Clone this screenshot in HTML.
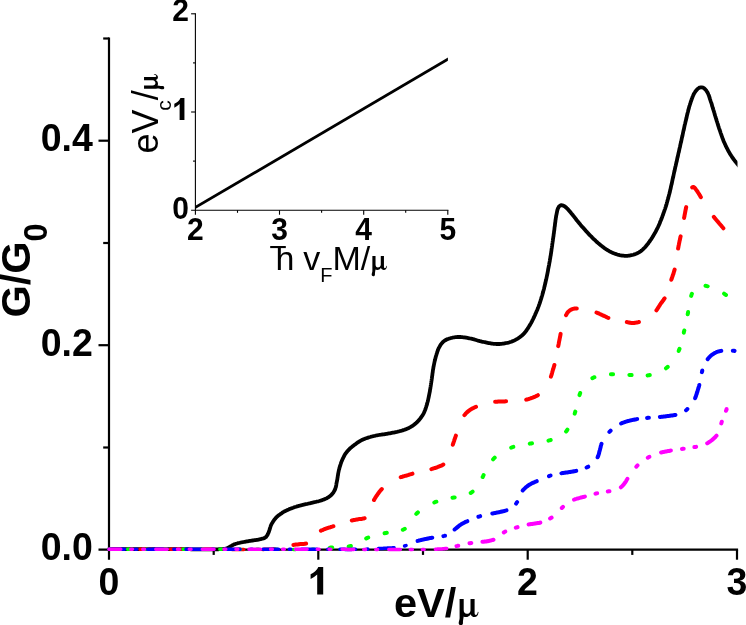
<!DOCTYPE html>
<html><head><meta charset="utf-8"><title>G/G0 vs eV/mu</title>
<style>html,body{margin:0;padding:0;background:#fff}svg{display:block;will-change:transform;opacity:0.9999}</style>
</head><body>
<svg width="746" height="625" viewBox="0 0 746 625">
<rect width="746" height="625" fill="#fff"/>
<defs><path id="mu" d="M1 -17.6H5.1V-6.6C5.1 -4.1 6.4 -2.8 8.2 -2.8C10.1 -2.8 11.9 -4.2 11.9 -6.2V-17.6H16V-3.9C16 -2.3 16.5 -1.7 17.3 -1.7C18.2 -1.7 18.9 -2.9 19.3 -4.9L19.95 -4.7C19.6 -1.5 18.2 0.45 16 0.45C14 0.45 12.6 -0.6 12.1 -2.4C11 -0.6 9.2 0.5 7.3 0.5C6.3 0.5 5.6 0.3 5.1 -0.1C4.9 1.2 4.6 2.6 4.45 3.8C4.3 4.9 4.35 5.6 4.35 6.3C4.35 7.7 3.5 8.6 2.25 8.6C1 8.6 0.1 7.7 0.1 6.4C0.1 5.3 0.6 4.3 0.9 2.7C1.1 1.5 1 0 1 -2Z"/></defs>
<g stroke="#000" stroke-width="2.2" fill="none" stroke-linecap="butt">
<path d="M109.0 37.4 V559.7"/>
<path d="M98.5 549.7 H738.1"/>
<path d="M98.5 345.2 H109.0"/>
<path d="M98.5 140.7 H109.0"/>
<path d="M103.2 447.5 H109.0"/>
<path d="M103.2 243.0 H109.0"/>
<path d="M103.2 38.5 H109.0"/>
<path d="M318.3 549.7 V559.7"/>
<path d="M527.7 549.7 V559.7"/>
<path d="M737.0 549.7 V559.7"/>
<path d="M213.7 549.7 V554.9000000000001"/>
<path d="M423.0 549.7 V554.9000000000001"/>
<path d="M632.3 549.7 V554.9000000000001"/>
</g>
<g stroke="#000" stroke-width="1.1" fill="none">
<path d="M195.4 13.2 V214.7"/>
<path d="M191.1 210.2 H448.4"/>
<path d="M191.1 112.0 H195.4"/>
<path d="M191.1 13.8 H195.4"/>
<path d="M193.0 161.1 H195.4"/>
<path d="M193.0 62.9 H195.4"/>
<path d="M279.5 210.2 V214.7"/>
<path d="M363.7 210.2 V214.7"/>
<path d="M447.8 210.2 V214.7"/>
<path d="M237.5 210.2 V212.8"/>
<path d="M321.6 210.2 V212.8"/>
<path d="M405.7 210.2 V212.8"/>
</g>
<defs><path id="one" d="M4.9 0H-1.1V-19.8Q-4.1 -17 -7.7 -15.4V-20.2Q-5.3 -21.2 -3.1 -23.1Q-0.8 -25.1 0 -27.4H4.9Z"/></defs>
<clipPath id="ci"><rect x="195.4" y="0" width="252.5" height="215"/></clipPath>
<clipPath id="cm"><rect x="100" y="0" width="637.5" height="560"/></clipPath>
<path d="M194.6 207.9 L450 58.0" stroke="#000" stroke-width="2.8" fill="none" clip-path="url(#ci)"/>
<g fill="none" stroke-width="4.0" stroke-linecap="round" stroke-linejoin="round" clip-path="url(#cm)">
<path d="M109.0 549.2L110.0 549.2L111.0 549.2L112.0 549.2L113.0 549.2L114.0 549.2L115.0 549.2L116.0 549.2L117.0 549.2L118.0 549.2L119.0 549.2L120.0 549.2L121.0 549.2L122.0 549.2L123.0 549.2L124.0 549.2L125.0 549.2L126.0 549.2L127.0 549.2L128.0 549.2L129.0 549.2L130.0 549.2L131.0 549.2L132.0 549.2L133.0 549.2L134.0 549.2L135.0 549.2L136.0 549.2L137.0 549.2L138.0 549.2L139.0 549.2L140.0 549.2L141.0 549.2L142.0 549.2L143.0 549.2L144.0 549.2L145.0 549.2L146.0 549.2L147.0 549.2L148.0 549.2L149.0 549.2L150.0 549.2L151.0 549.2L152.0 549.2L153.0 549.2L154.0 549.2L155.0 549.2L156.0 549.2L157.0 549.2L158.0 549.2L159.0 549.2L160.0 549.2L161.0 549.2L162.0 549.2L163.0 549.2L164.0 549.2L165.0 549.2L166.0 549.2L167.0 549.2L168.0 549.2L169.0 549.2L170.0 549.2L171.0 549.2L172.0 549.2L173.0 549.2L174.0 549.2L175.1 549.2L176.1 549.2L177.1 549.2L178.1 549.2L179.1 549.2L180.1 549.2L181.1 549.2L182.1 549.2L183.1 549.2L184.1 549.2L185.1 549.2L186.1 549.2L187.1 549.2L188.1 549.2L189.1 549.2L190.1 549.2L191.1 549.3L192.1 549.3L193.1 549.3L194.1 549.3L195.1 549.3L196.1 549.3L197.1 549.3L198.1 549.3L199.1 549.3L200.1 549.3L201.1 549.3L202.1 549.4L203.1 549.4L204.1 549.4L205.1 549.4L206.1 549.4L207.1 549.4L208.1 549.4L209.1 549.4L210.1 549.4L211.1 549.4L212.1 549.4L213.1 549.4L214.1 549.4L215.1 549.4L216.1 549.3L217.1 549.3L218.1 549.3L219.1 549.2L220.1 549.2L221.1 549.1L222.1 549.1L223.1 549.1L224.1 549.0L225.1 548.8L226.0 548.5L227.0 548.2L227.9 547.8L228.8 547.3L229.6 546.9L230.5 546.3L231.4 545.8L232.2 545.3L233.1 544.9L234.0 544.4L235.0 544.1L235.9 543.8L236.9 543.5L237.8 543.2L238.8 543.0L239.8 542.8L240.8 542.5L241.7 542.3L242.7 542.2L243.7 542.0L244.7 541.8L245.7 541.6L246.7 541.4L247.6 541.3L248.6 541.1L249.6 540.9L250.6 540.8L251.6 540.6L252.6 540.5L253.6 540.4L254.6 540.2L255.6 540.1L256.6 539.9L257.5 539.8L258.5 539.6L259.5 539.4L260.5 539.2L261.5 538.9L262.4 538.7L263.4 538.4L264.3 538.1L265.2 537.6L266.0 537.0L266.6 536.2L267.2 535.4L267.7 534.5L268.1 533.6L268.5 532.7L268.9 531.8L269.2 530.8L269.5 529.9L269.8 528.9L270.1 527.9L270.4 527.0L270.7 526.0L271.1 525.1L271.5 524.2L272.0 523.3L272.5 522.5L273.0 521.6L273.6 520.8L274.1 519.9L274.7 519.2L275.4 518.4L276.1 517.6L276.8 516.9L277.5 516.3L278.3 515.6L279.1 515.0L279.9 514.4L280.7 513.8L281.5 513.3L282.4 512.7L283.2 512.2L284.1 511.7L284.9 511.2L285.8 510.8L286.7 510.3L287.6 509.9L288.6 509.5L289.5 509.1L290.4 508.7L291.3 508.4L292.3 508.0L293.2 507.7L294.2 507.3L295.1 507.0L296.1 506.7L297.0 506.4L298.0 506.1L298.9 505.8L299.9 505.6L300.9 505.3L301.8 505.1L302.8 504.8L303.8 504.6L304.8 504.4L305.7 504.2L306.7 504.0L307.7 503.8L308.7 503.5L309.6 503.3L310.6 503.1L311.6 502.8L312.6 502.6L313.5 502.4L314.5 502.2L315.5 502.0L316.5 501.7L317.4 501.5L318.4 501.3L319.4 501.0L320.3 500.7L321.3 500.4L322.2 500.1L323.2 499.7L324.1 499.4L325.0 499.0L326.0 498.6L326.9 498.2L327.7 497.7L328.6 497.2L329.4 496.6L330.2 496.0L330.9 495.3L331.6 494.6L332.3 493.9L332.9 493.1L333.5 492.3L334.0 491.4L334.5 490.5L335.0 489.6L335.3 488.7L335.6 487.7L335.9 486.8L336.1 485.8L336.3 484.8L336.4 483.8L336.6 482.8L336.8 481.9L337.0 480.9L337.2 479.9L337.4 478.9L337.5 477.9L337.7 476.9L337.8 475.9L338.0 475.0L338.1 474.0L338.3 473.0L338.5 472.0L338.7 471.0L338.9 470.0L339.2 469.1L339.4 468.1L339.7 467.1L340.0 466.2L340.3 465.2L340.6 464.3L340.9 463.3L341.2 462.4L341.6 461.4L342.0 460.5L342.4 459.6L342.8 458.7L343.2 457.8L343.7 456.9L344.1 456.0L344.6 455.1L345.1 454.3L345.7 453.4L346.3 452.6L346.9 451.8L347.5 451.0L348.2 450.3L348.9 449.6L349.6 448.9L350.3 448.2L351.1 447.6L351.9 446.9L352.6 446.3L353.4 445.7L354.2 445.1L355.0 444.5L355.8 443.9L356.6 443.3L357.4 442.7L358.3 442.1L359.1 441.6L359.9 441.1L360.8 440.6L361.7 440.1L362.6 439.7L363.5 439.3L364.4 438.9L365.4 438.5L366.3 438.2L367.3 437.9L368.2 437.6L369.2 437.3L370.2 437.0L371.1 436.7L372.1 436.5L373.1 436.2L374.0 436.0L375.0 435.8L376.0 435.5L377.0 435.3L377.9 435.2L378.9 435.0L379.9 434.8L380.9 434.7L381.9 434.5L382.9 434.4L383.9 434.3L384.9 434.1L385.9 434.0L386.8 433.8L387.8 433.6L388.8 433.4L389.8 433.3L390.8 433.1L391.8 432.9L392.7 432.7L393.7 432.6L394.7 432.4L395.7 432.2L396.7 432.0L397.7 431.7L398.6 431.5L399.6 431.2L400.6 431.0L401.5 430.7L402.5 430.4L403.4 430.1L404.4 429.8L405.3 429.4L406.3 429.1L407.2 428.7L408.1 428.3L409.0 427.9L409.9 427.4L410.8 426.9L411.6 426.4L412.5 425.9L413.3 425.3L414.1 424.7L414.9 424.1L415.6 423.4L416.4 422.8L417.1 422.1L417.8 421.4L418.5 420.6L419.2 419.9L419.8 419.1L420.4 418.3L421.0 417.5L421.6 416.7L422.2 415.9L422.7 415.0L423.2 414.2L423.7 413.3L424.1 412.4L424.5 411.5L424.9 410.6L425.3 409.6L425.6 408.7L425.9 407.7L426.2 406.8L426.5 405.8L426.8 404.9L427.1 403.9L427.3 402.9L427.6 402.0L427.9 401.0L428.1 400.0L428.3 399.0L428.5 398.1L428.7 397.1L428.9 396.1L429.1 395.1L429.3 394.1L429.5 393.2L429.7 392.2L429.9 391.2L430.0 390.2L430.2 389.2L430.4 388.2L430.5 387.2L430.7 386.3L430.8 385.3L431.0 384.3L431.1 383.3L431.3 382.3L431.4 381.3L431.6 380.3L431.7 379.3L431.9 378.3L432.0 377.3L432.1 376.4L432.3 375.4L432.4 374.4L432.5 373.4L432.7 372.4L432.8 371.4L432.9 370.4L433.1 369.4L433.3 368.4L433.4 367.4L433.6 366.5L433.8 365.5L434.0 364.5L434.2 363.5L434.4 362.5L434.6 361.6L434.8 360.6L435.1 359.6L435.3 358.6L435.6 357.7L435.8 356.7L436.1 355.7L436.4 354.8L436.7 353.8L437.0 352.9L437.3 351.9L437.6 351.0L438.0 350.0L438.3 349.1L438.7 348.2L439.2 347.3L439.7 346.4L440.2 345.6L440.7 344.7L441.3 343.9L442.0 343.1L442.6 342.4L443.3 341.7L444.1 341.1L444.9 340.5L445.8 340.0L446.7 339.5L447.6 339.1L448.6 338.8L449.5 338.5L450.5 338.2L451.4 338.0L452.4 337.7L453.4 337.5L454.4 337.3L455.4 337.2L456.4 337.1L457.4 337.0L458.4 337.0L459.4 337.0L460.4 337.0L461.4 337.1L462.4 337.2L463.3 337.3L464.3 337.4L465.3 337.5L466.3 337.7L467.3 337.9L468.3 338.1L469.3 338.3L470.3 338.5L471.2 338.7L472.2 338.9L473.2 339.2L474.1 339.4L475.1 339.7L476.1 340.0L477.0 340.3L478.0 340.6L478.9 340.8L479.9 341.1L480.9 341.3L481.8 341.6L482.8 341.8L483.8 342.0L484.8 342.2L485.8 342.4L486.7 342.7L487.7 342.9L488.7 343.1L489.7 343.2L490.7 343.4L491.7 343.6L492.6 343.7L493.6 343.8L494.6 343.9L495.6 343.9L496.6 344.0L497.6 344.0L498.6 344.0L499.6 344.0L500.6 343.9L501.6 343.8L502.6 343.7L503.6 343.6L504.6 343.4L505.6 343.2L506.6 343.0L507.5 342.8L508.5 342.6L509.5 342.3L510.4 342.0L511.4 341.7L512.3 341.3L513.2 340.9L514.2 340.5L515.0 340.1L515.9 339.6L516.8 339.1L517.7 338.6L518.5 338.1L519.3 337.5L520.1 336.9L520.9 336.3L521.7 335.7L522.5 335.0L523.2 334.3L523.9 333.6L524.6 332.9L525.2 332.1L525.8 331.3L526.4 330.5L527.0 329.7L527.5 328.8L528.1 328.0L528.6 327.2L529.1 326.3L529.7 325.4L530.2 324.6L530.7 323.7L531.2 322.8L531.6 322.0L532.1 321.1L532.5 320.2L533.0 319.3L533.4 318.4L533.9 317.5L534.3 316.6L534.7 315.7L535.1 314.8L535.5 313.8L535.9 312.9L536.3 312.0L536.7 311.1L537.1 310.2L537.5 309.2L537.8 308.3L538.2 307.4L538.6 306.4L538.9 305.5L539.2 304.6L539.6 303.6L539.9 302.7L540.2 301.7L540.5 300.8L540.8 299.8L541.1 298.9L541.4 297.9L541.7 296.9L542.0 296.0L542.3 295.0L542.5 294.1L542.8 293.1L543.1 292.1L543.3 291.2L543.6 290.2L543.9 289.2L544.1 288.3L544.3 287.3L544.6 286.3L544.8 285.3L545.0 284.4L545.3 283.4L545.5 282.4L545.7 281.4L545.9 280.5L546.2 279.5L546.4 278.5L546.6 277.5L546.8 276.5L547.0 275.6L547.2 274.6L547.4 273.6L547.6 272.6L547.8 271.6L548.0 270.7L548.1 269.7L548.3 268.7L548.5 267.7L548.7 266.7L548.9 265.7L549.1 264.8L549.2 263.8L549.4 262.8L549.6 261.8L549.8 260.8L549.9 259.8L550.1 258.8L550.3 257.9L550.4 256.9L550.6 255.9L550.8 254.9L550.9 253.9L551.1 252.9L551.2 251.9L551.4 250.9L551.5 249.9L551.6 249.0L551.8 248.0L551.9 247.0L552.1 246.0L552.2 245.0L552.3 244.0L552.5 243.0L552.6 242.0L552.8 241.0L552.9 240.0L553.0 239.0L553.2 238.1L553.3 237.1L553.5 236.1L553.6 235.1L553.7 234.1L553.9 233.1L554.0 232.1L554.1 231.1L554.3 230.1L554.4 229.1L554.5 228.1L554.6 227.1L554.8 226.2L554.9 225.2L555.0 224.2L555.1 223.2L555.3 222.2L555.4 221.2L555.5 220.2L555.7 219.2L555.8 218.2L556.0 217.2L556.1 216.2L556.3 215.3L556.5 214.3L556.7 213.3L556.9 212.3L557.1 211.3L557.3 210.4L557.6 209.4L557.9 208.5L558.4 207.6L558.9 206.7L559.6 206.0L560.4 205.4L561.4 205.2L562.4 205.3L563.3 205.7L564.2 206.1L565.1 206.7L565.8 207.3L566.6 208.0L567.3 208.7L568.0 209.4L568.6 210.2L569.3 210.9L569.9 211.7L570.6 212.4L571.2 213.2L571.9 214.0L572.5 214.7L573.1 215.5L573.8 216.3L574.4 217.1L575.0 217.9L575.6 218.7L576.2 219.5L576.8 220.3L577.5 221.0L578.1 221.8L578.7 222.6L579.4 223.4L580.0 224.1L580.6 224.9L581.3 225.7L581.9 226.4L582.6 227.2L583.3 227.9L583.9 228.7L584.6 229.4L585.2 230.2L585.9 230.9L586.6 231.7L587.3 232.4L587.9 233.1L588.6 233.9L589.3 234.6L590.0 235.3L590.7 236.0L591.4 236.7L592.1 237.4L592.8 238.2L593.5 238.9L594.3 239.5L595.0 240.2L595.7 240.9L596.5 241.6L597.2 242.3L597.9 242.9L598.7 243.6L599.5 244.2L600.3 244.9L601.0 245.5L601.8 246.1L602.6 246.7L603.4 247.3L604.2 247.9L605.0 248.5L605.8 249.1L606.7 249.6L607.5 250.2L608.4 250.7L609.3 251.2L610.1 251.6L611.0 252.1L611.9 252.5L612.9 252.9L613.8 253.3L614.7 253.6L615.7 253.9L616.6 254.3L617.6 254.6L618.5 254.8L619.5 255.1L620.5 255.3L621.5 255.5L622.5 255.6L623.5 255.7L624.5 255.8L625.5 255.8L626.5 255.8L627.5 255.8L628.5 255.7L629.5 255.6L630.4 255.4L631.4 255.2L632.4 255.0L633.4 254.7L634.3 254.4L635.2 254.1L636.2 253.7L637.1 253.3L638.0 252.8L638.9 252.3L639.7 251.8L640.5 251.3L641.4 250.7L642.1 250.1L642.9 249.4L643.6 248.7L644.3 248.0L645.0 247.3L645.7 246.5L646.3 245.7L646.9 245.0L647.5 244.2L648.2 243.4L648.7 242.6L649.3 241.8L649.9 241.0L650.5 240.1L651.1 239.3L651.6 238.5L652.2 237.6L652.7 236.8L653.2 235.9L653.7 235.1L654.2 234.2L654.7 233.3L655.2 232.5L655.7 231.6L656.2 230.7L656.6 229.8L657.1 228.9L657.5 228.0L658.0 227.1L658.4 226.2L658.8 225.3L659.2 224.4L659.6 223.5L660.0 222.5L660.3 221.6L660.7 220.7L661.1 219.8L661.5 218.8L661.8 217.9L662.2 217.0L662.5 216.0L662.9 215.1L663.2 214.1L663.5 213.2L663.9 212.3L664.2 211.3L664.5 210.4L664.9 209.4L665.2 208.5L665.5 207.5L665.8 206.6L666.1 205.6L666.4 204.7L666.7 203.7L666.9 202.7L667.2 201.8L667.5 200.8L667.7 199.8L668.0 198.9L668.3 197.9L668.5 196.9L668.8 196.0L669.0 195.0L669.3 194.0L669.5 193.1L669.8 192.1L670.0 191.1L670.2 190.1L670.5 189.2L670.7 188.2L670.9 187.2L671.1 186.2L671.3 185.3L671.6 184.3L671.8 183.3L672.0 182.3L672.2 181.4L672.4 180.4L672.6 179.4L672.8 178.4L673.1 177.4L673.3 176.5L673.5 175.5L673.7 174.5L673.9 173.5L674.1 172.6L674.3 171.6L674.6 170.6L674.8 169.6L675.0 168.7L675.2 167.7L675.4 166.7L675.7 165.7L675.9 164.7L676.1 163.8L676.3 162.8L676.6 161.8L676.8 160.8L677.0 159.9L677.2 158.9L677.4 157.9L677.7 156.9L677.9 156.0L678.1 155.0L678.3 154.0L678.5 153.0L678.8 152.1L679.0 151.1L679.2 150.1L679.4 149.1L679.6 148.2L679.9 147.2L680.1 146.2L680.3 145.2L680.5 144.2L680.7 143.3L681.0 142.3L681.2 141.3L681.4 140.3L681.6 139.4L681.8 138.4L682.0 137.4L682.3 136.4L682.5 135.5L682.7 134.5L682.9 133.5L683.1 132.5L683.3 131.5L683.5 130.6L683.8 129.6L684.0 128.6L684.2 127.6L684.4 126.7L684.6 125.7L684.8 124.7L685.1 123.7L685.3 122.8L685.5 121.8L685.8 120.8L686.0 119.8L686.2 118.9L686.5 117.9L686.7 116.9L686.9 115.9L687.1 115.0L687.4 114.0L687.6 113.0L687.9 112.0L688.1 111.1L688.3 110.1L688.6 109.1L688.9 108.2L689.1 107.2L689.4 106.2L689.7 105.3L690.0 104.3L690.3 103.4L690.6 102.4L690.9 101.5L691.3 100.5L691.6 99.6L691.9 98.6L692.3 97.7L692.6 96.8L693.0 95.9L693.4 94.9L693.9 94.0L694.3 93.2L694.9 92.3L695.4 91.5L696.0 90.7L696.7 89.9L697.4 89.2L698.1 88.5L698.9 88.0L699.8 87.5L700.8 87.3L701.8 87.4L702.8 87.6L703.7 88.0L704.5 88.6L705.2 89.3L705.9 90.0L706.5 90.9L707.0 91.7L707.5 92.6L708.0 93.4L708.4 94.4L708.8 95.3L709.1 96.2L709.4 97.2L709.7 98.1L710.0 99.1L710.3 100.0L710.6 101.0L710.9 101.9L711.3 102.9L711.6 103.8L711.9 104.8L712.1 105.8L712.4 106.7L712.7 107.7L713.0 108.6L713.3 109.6L713.6 110.5L713.9 111.5L714.2 112.5L714.5 113.4L714.7 114.4L715.0 115.3L715.3 116.3L715.6 117.2L715.9 118.2L716.2 119.2L716.5 120.1L716.8 121.1L717.1 122.0L717.4 123.0L717.7 123.9L718.0 124.9L718.3 125.9L718.6 126.8L718.9 127.8L719.2 128.7L719.6 129.7L719.9 130.6L720.2 131.5L720.5 132.5L720.8 133.4L721.2 134.4L721.5 135.3L721.8 136.3L722.2 137.2L722.5 138.2L722.9 139.1L723.2 140.0L723.6 141.0L724.0 141.9L724.4 142.8L724.8 143.7L725.2 144.6L725.6 145.5L726.0 146.4L726.5 147.3L726.9 148.2L727.4 149.1L727.9 150.0L728.3 150.9L728.8 151.8L729.3 152.6L729.8 153.5L730.3 154.4L730.9 155.2L731.4 156.0L732.0 156.9L732.5 157.7L733.1 158.5L733.7 159.3L734.3 160.1L734.9 160.9L735.6 161.7L736.2 162.5L736.8 163.2L737.4 164.0L738.1 164.8L738.7 165.6L739.4 166.3L740.0 167.1" stroke="#000" stroke-width="3.8"/>
<path d="M109.0 549.2L109.8 549.2L110.5 549.2L111.3 549.2L112.0 549.2L112.8 549.2L113.5 549.2L114.3 549.2L115.0 549.2L115.8 549.2L116.5 549.2L117.3 549.2L118.0 549.2L118.8 549.2L119.5 549.2L120.3 549.2L120.8 549.2M139.8 549.2L140.5 549.2L141.3 549.2L142.0 549.2L142.8 549.2L143.5 549.2L144.3 549.2L145.0 549.2L145.8 549.2L146.5 549.2L147.3 549.2L148.0 549.2L148.8 549.2L149.5 549.2L150.3 549.2L151.0 549.2L151.5 549.2M170.5 549.2L171.3 549.2L172.0 549.2L172.8 549.2L173.5 549.2L174.3 549.2L175.0 549.2L175.8 549.2L176.5 549.2L177.3 549.2L178.0 549.2L178.8 549.2L179.5 549.2L180.3 549.2L181.0 549.2L181.8 549.2L182.3 549.2M201.3 549.2L202.0 549.2L202.8 549.2L203.5 549.2L204.3 549.2L205.0 549.2L205.8 549.2L206.5 549.2L207.3 549.2L208.0 549.2L208.8 549.2L209.5 549.2L210.3 549.2L211.0 549.2L211.8 549.2L212.5 549.2L213.0 549.2M232.0 549.4L232.8 549.4L233.5 549.4L234.3 549.4L235.0 549.4L235.8 549.4L236.5 549.4L237.3 549.4L238.0 549.4L238.8 549.4L239.5 549.4L240.3 549.4L241.0 549.4L241.8 549.4L242.5 549.4L243.3 549.4L243.8 549.4M262.8 549.4L263.5 549.4L264.3 549.3L265.0 549.3L265.8 549.3L266.5 549.3L267.3 549.3L268.0 549.3L268.8 549.2L269.5 549.2L270.3 549.2L271.0 549.2L271.8 549.1L272.5 549.1L273.3 549.1L274.0 549.1L274.5 549.0" stroke="#ff0000" stroke-width="3.5"/>
<path d="M293.4 544.9L294.2 544.8L294.9 544.7L295.7 544.6L296.4 544.5L297.2 544.4L297.9 544.4L298.6 544.3L299.4 544.2L300.1 544.1L300.9 544.1L301.6 544.0L302.4 544.0L303.1 544.0L303.9 543.9L304.6 543.8L305.4 543.7L306.1 543.6M320.9 530.7L321.6 530.3L322.3 530.1L323.0 529.8L323.7 529.5L324.4 529.2L325.1 529.0L325.8 528.7L326.5 528.5L327.2 528.2L327.9 528.0L328.7 527.7L329.4 527.5L330.1 527.3L330.8 527.0L331.5 526.8L332.2 526.6L332.9 526.4L333.4 526.2M351.8 520.5L352.5 520.3L353.3 520.2L354.0 520.0L354.7 519.9L355.5 519.8L356.2 519.6L357.0 519.5L357.7 519.4L358.4 519.2L359.2 519.1L359.9 519.0L360.7 518.9L361.4 518.9L362.1 518.8L362.9 518.6L363.6 518.5L364.3 518.3L364.6 518.2M374.0 500.0L374.3 499.4L374.7 498.7L375.1 498.1L375.5 497.4L375.9 496.8L376.3 496.2L376.7 495.6L377.2 495.0L377.6 494.3L378.0 493.7L378.5 493.1L378.9 492.5L379.4 491.9L379.8 491.3L380.3 490.7L380.8 490.2L381.3 489.6L381.8 489.0M400.7 477.2L401.4 477.0L402.1 476.8L402.8 476.5L403.6 476.3L404.3 476.1L405.0 475.9L405.7 475.7L406.5 475.5L407.2 475.3L407.9 475.1L408.6 474.9L409.3 474.6L410.0 474.4L410.8 474.2L411.5 474.0L412.2 473.8L412.4 473.7M431.4 469.1L432.1 468.9L432.8 468.7L433.5 468.5L434.3 468.2L435.0 468.0L435.7 467.8L436.4 467.5L437.1 467.3L437.8 467.0L438.5 466.7L439.2 466.5L439.9 466.2L440.6 465.9L441.3 465.6L442.0 465.3L442.6 464.9L443.3 464.5M452.8 444.8L453.0 444.1L453.2 443.4L453.5 442.7L453.7 442.0L454.0 441.3L454.2 440.6L454.4 439.8L454.7 439.1L454.9 438.4L455.2 437.7L455.4 437.0L455.7 436.3L455.9 435.6M464.4 415.1L464.9 414.6L465.4 414.0L465.9 413.4L466.4 412.9L466.9 412.4L467.5 411.9L468.1 411.4L468.7 410.9L469.3 410.5L469.9 410.0L470.5 409.6L471.1 409.2L471.8 408.9L472.4 408.5L473.1 408.1L473.8 407.8L474.4 407.5L475.1 407.2L475.8 406.9L476.0 406.8M495.1 401.8L495.8 401.8L496.6 401.7L497.3 401.7L498.1 401.6L498.8 401.6L499.6 401.5L500.3 401.5L501.1 401.5L501.8 401.4L502.6 401.4L503.3 401.4L504.1 401.4L504.8 401.4L505.6 401.3L506.1 401.3M526.2 399.7L526.9 399.5L527.7 399.3L528.4 399.1L529.1 398.8L529.8 398.6L530.5 398.4L531.2 398.1L531.9 397.8L532.6 397.6L533.3 397.3L534.0 397.0L534.7 396.8L535.4 396.5L536.1 396.2L536.8 395.8L537.4 395.5L537.9 395.2M550.9 376.7L551.1 376.0L551.4 375.3L551.6 374.6L551.8 373.9L552.0 373.2L552.2 372.4L552.4 371.7L552.6 371.0L552.8 370.3L553.0 369.6L553.3 368.8L553.5 368.1L553.7 367.4L553.9 366.7L554.1 366.0L554.3 365.3L554.4 365.0M558.2 346.1L558.4 345.4L558.5 344.7L558.7 343.9L558.8 343.2L558.9 342.5L559.1 341.7L559.2 341.0L559.4 340.3L559.5 339.5L559.7 338.8L559.8 338.0L560.0 337.3L560.1 336.6L560.3 335.8L560.4 335.1L560.5 334.4L560.6 333.9M566.0 315.2L566.4 314.5L566.7 313.9L567.1 313.2L567.5 312.6L568.0 312.0L568.5 311.5L569.1 311.0L569.7 310.5L570.3 310.1L571.0 309.7L571.6 309.4L572.3 309.1L573.0 308.9L573.8 308.7L574.5 308.6L575.3 308.5L576.0 308.5L576.8 308.5M596.5 312.5L597.2 312.8L597.9 313.1L598.6 313.4L599.3 313.7L599.9 314.0L600.6 314.3L601.3 314.7L602.0 315.0L602.7 315.3L603.4 315.6L604.0 315.9L604.7 316.2L605.4 316.5L606.1 316.8L606.8 317.2L607.4 317.5L608.1 317.8L608.4 317.9M626.8 322.1L627.5 322.2L628.3 322.4L629.0 322.5L629.8 322.7L630.5 322.8L631.2 322.9L632.0 323.0L632.7 323.0L633.5 323.0L634.2 322.9L635.0 322.8L635.7 322.7L636.5 322.6L637.2 322.4L637.9 322.3L638.6 322.1L638.9 322.0M656.4 310.3L656.8 309.7L657.3 309.1L657.7 308.4L658.1 307.8L658.5 307.2L658.9 306.5L659.3 305.9L659.7 305.3L660.1 304.6L660.5 304.0L660.9 303.4L661.4 302.8L661.8 302.2L662.3 301.6L662.7 301.0L663.2 300.4L663.6 299.8L664.0 299.2L664.4 298.5L664.6 298.3M671.3 279.8L671.5 279.1L671.8 278.4L672.0 277.7L672.3 277.0L672.5 276.3L672.8 275.5L673.0 274.8L673.3 274.1L673.5 273.4L673.7 272.7L673.9 272.0L674.1 271.3L674.4 270.5L674.5 269.8L674.6 269.6M678.1 248.6L678.2 247.9L678.4 247.1L678.5 246.4L678.6 245.7L678.8 244.9L678.9 244.2L679.1 243.5L679.2 242.7L679.4 242.0L679.5 241.3L679.7 240.5L679.9 239.8L680.0 239.1L680.2 238.3L680.3 237.6L680.5 236.8L680.6 236.4M684.1 217.9L684.2 217.2L684.4 216.5L684.5 215.7L684.6 215.0L684.8 214.3L684.9 213.5L685.1 212.8L685.2 212.0L685.3 211.3L685.5 210.6L685.6 209.8L685.8 209.1L685.9 208.4L686.1 207.6L686.2 207.1M692.2 187.4L692.9 187.1L693.6 187.1L694.3 187.5L694.8 188.0L695.3 188.6L695.7 189.2L696.2 189.8L696.6 190.4L697.0 191.0L697.5 191.6L697.9 192.3L698.3 192.9L698.7 193.5L699.1 194.2L699.5 194.8L699.9 195.4L700.2 196.1L700.6 196.7L700.9 197.2M713.8 216.8L714.2 217.4L714.7 218.0L715.2 218.6L715.6 219.2L716.1 219.7L716.6 220.3L717.1 220.9L717.6 221.4L718.1 222.0L718.6 222.6L719.0 223.2L719.5 223.7L720.0 224.3L720.5 224.9L721.0 225.4L721.5 226.0L722.0 226.6L722.5 227.1L722.9 227.7L723.4 228.3" stroke="#ff0000"/>
<path d="M109.0 549.2L109.8 549.2L110.5 549.2L111.0 549.2M127.5 549.2L128.3 549.2L129.0 549.2L129.5 549.2M146.0 549.2L146.8 549.2L147.5 549.2L148.0 549.2M164.5 549.2L165.3 549.2L166.0 549.2L166.5 549.2M183.0 549.2L183.8 549.2L184.5 549.2L185.0 549.2M201.3 549.2L202.0 549.2L202.8 549.2L203.3 549.2M219.8 549.2L220.5 549.2L221.3 549.2L221.8 549.2M238.3 549.2L239.0 549.2L239.8 549.2L240.3 549.2M256.8 549.2L257.5 549.2L258.3 549.2L258.8 549.2M275.1 549.3L275.8 549.3L276.6 549.3L277.1 549.3M293.6 549.4L294.3 549.4L295.1 549.4L295.6 549.4M312.1 549.3L312.8 549.3L313.6 549.2L314.1 549.2" stroke="#00ff00" stroke-width="3.5"/>
<path d="M330.0 547.7L330.7 547.6L331.5 547.6L332.2 547.5M348.7 546.5L349.4 546.3L350.2 546.2L350.9 546.0M366.2 538.5L366.9 538.1L367.5 537.8L368.2 537.5M384.6 533.2L385.4 533.0L386.1 532.9L386.8 532.8M402.8 529.8L403.5 529.5L404.2 529.2L404.8 528.8M416.3 513.9L416.8 513.4L417.4 512.9L417.9 512.4M434.3 502.5L435.0 502.2L435.7 501.9L436.4 501.7M452.5 497.8L453.2 497.7L453.9 497.5L454.7 497.4M470.7 492.9L471.4 492.5L472.0 492.1L472.6 491.7M482.7 477.0L483.0 476.4L483.3 475.7L483.6 475.0M493.1 459.3L493.7 458.7L494.2 458.2L494.7 457.7M511.2 447.6L511.9 447.4L512.6 447.1L513.3 446.9M529.8 443.7L530.5 443.5L531.3 443.4L532.0 443.3M548.5 440.6L549.2 440.4L550.0 440.2L550.7 440.0M566.1 431.5L566.6 430.9L567.0 430.3L567.4 429.7M574.7 413.7L574.9 413.0L575.1 412.3L575.3 411.6M579.5 395.1L579.7 394.4L580.0 393.7L580.2 393.0M592.4 378.2L593.1 377.9L593.7 377.5L594.4 377.2M610.9 374.3L611.6 374.3L612.4 374.3L613.1 374.3M629.4 374.9L630.1 375.0L630.9 375.0L631.6 375.1M647.6 375.4L648.3 375.3L649.1 375.2L649.8 375.1M666.0 368.3L666.6 367.8L667.1 367.4L667.7 366.9M678.7 351.0L678.9 350.3L679.2 349.6L679.5 348.9M683.8 332.7L683.9 331.9L684.1 331.2L684.3 330.5M687.7 314.3L687.8 313.6L688.0 312.9L688.1 312.1M691.2 295.9L691.4 295.2L691.6 294.5L691.9 293.8M705.5 285.8L706.3 285.9L707.0 286.1L707.7 286.3M724.1 293.7L724.7 294.1L725.3 294.5L726.0 294.9" stroke="#00ff00"/>
<path d="M109.0 549.2L109.8 549.2L110.5 549.2L111.3 549.2L112.0 549.2L112.8 549.2L113.5 549.2L114.3 549.2L115.0 549.2L115.8 549.2L116.5 549.2L117.3 549.2L118.0 549.2L118.8 549.2L119.5 549.2L120.3 549.2L121.0 549.2L121.8 549.2L122.5 549.2L123.3 549.2L124.0 549.2L124.5 549.2M135.3 549.2L136.0 549.2L136.8 549.2M147.5 549.2L148.3 549.2L149.0 549.2L149.8 549.2L150.5 549.2L151.3 549.2L152.0 549.2L152.8 549.2L153.5 549.2L154.3 549.2L155.0 549.2L155.8 549.2L156.5 549.2L157.3 549.2L158.0 549.2L158.8 549.2L159.5 549.2L160.3 549.2L161.0 549.2L161.8 549.2L162.5 549.2L163.0 549.2M173.8 549.2L174.5 549.2L175.3 549.2M186.0 549.2L186.8 549.2L187.5 549.2L188.3 549.2L189.0 549.2L189.8 549.2L190.5 549.2L191.3 549.2L192.0 549.2L192.8 549.2L193.5 549.2L194.3 549.2L195.0 549.2L195.8 549.2L196.5 549.2L197.3 549.2L198.0 549.2L198.8 549.2L199.5 549.2L200.3 549.2L201.0 549.2L201.5 549.2M212.3 549.2L213.0 549.2L213.8 549.2M224.5 549.2L225.3 549.2L226.0 549.2L226.8 549.2L227.5 549.2L228.3 549.2L229.0 549.2L229.8 549.2L230.5 549.2L231.3 549.2L232.0 549.2L232.8 549.2L233.5 549.2L234.3 549.2L235.0 549.2L235.8 549.2L236.5 549.2L237.3 549.2L238.0 549.2L238.8 549.2L239.5 549.2L240.0 549.2M250.8 549.2L251.5 549.2L252.3 549.2M263.0 549.2L263.8 549.2L264.5 549.2L265.3 549.2L266.0 549.2L266.8 549.2L267.5 549.2L268.3 549.2L269.0 549.2L269.8 549.2L270.5 549.2L271.3 549.2L272.0 549.2L272.8 549.2L273.5 549.2L274.3 549.2L275.0 549.2L275.8 549.2L276.5 549.2L277.3 549.2L278.0 549.2L278.5 549.2M289.3 549.2L290.0 549.2L290.8 549.2M301.5 549.2L302.3 549.2L303.0 549.2L303.8 549.2L304.5 549.2L305.3 549.2L306.0 549.2L306.8 549.2L307.5 549.2L308.3 549.2L309.0 549.2L309.8 549.2L310.5 549.2L311.3 549.2L312.0 549.2L312.8 549.2L313.5 549.2L314.3 549.2L315.0 549.2L315.8 549.2L316.5 549.2L317.0 549.2M327.8 549.3L328.5 549.3L329.3 549.3M340.0 549.3L340.8 549.3L341.5 549.3L342.3 549.3L343.0 549.3L343.8 549.3L344.5 549.3L345.3 549.4L346.0 549.4L346.8 549.4L347.5 549.4L348.3 549.4L349.0 549.4L349.8 549.4L350.5 549.4L351.3 549.4L352.0 549.3L352.8 549.3L353.5 549.3L354.3 549.3L355.0 549.3L355.5 549.3M366.3 549.2L367.0 549.2L367.8 549.1M378.5 548.6L379.3 548.5L380.0 548.5L380.8 548.5L381.5 548.4L382.3 548.4L383.0 548.4L383.8 548.3L384.5 548.3L385.3 548.3L386.0 548.2L386.8 548.2L387.5 548.1L388.3 548.1L389.0 548.1L389.8 548.0L390.5 548.0L391.3 547.9L392.0 547.9L392.8 547.8L393.5 547.8L394.0 547.7M404.6 546.0L405.3 545.8L406.0 545.5" stroke="#0000ff" stroke-width="3.5"/>
<path d="M417.6 540.9L418.4 540.7L419.1 540.5L419.8 540.3L420.5 540.1L421.3 539.9L422.0 539.8L422.7 539.6L423.5 539.4L424.2 539.3L424.9 539.1L425.7 539.0L426.4 538.8L427.1 538.7L427.9 538.5L428.6 538.4L429.3 538.2L430.1 538.1L430.8 538.0L431.5 537.8L432.3 537.7M443.4 536.1L444.2 535.9L444.9 535.7L445.1 535.7M454.6 529.5L455.2 529.0L455.8 528.5L456.3 528.1L456.9 527.6L457.5 527.1L458.1 526.6L458.7 526.1L459.2 525.7L459.9 525.2L460.5 524.8L461.1 524.4L461.7 524.0L462.4 523.6L463.0 523.3L463.7 522.9L464.4 522.6L465.0 522.2L465.7 521.9L466.4 521.6L467.1 521.3L467.3 521.2M478.4 516.7L479.2 516.5L479.9 516.3L480.1 516.2M492.3 513.5L493.1 513.4L493.8 513.2L494.5 513.1L495.3 512.9L496.0 512.8L496.7 512.6L497.5 512.5L498.2 512.3L498.9 512.2L499.7 512.0L500.4 511.8L501.1 511.7L501.9 511.5L502.6 511.4L503.3 511.2L504.1 511.0L504.8 510.8L505.5 510.6L506.2 510.4L506.5 510.3M516.1 503.6L516.5 503.0L516.9 502.3L517.1 502.1M522.7 490.5L523.2 489.9L523.7 489.4L524.3 488.8L524.8 488.3L525.3 487.8L525.9 487.3L526.5 486.8L527.1 486.4L527.7 485.9L528.3 485.5L528.9 485.0L529.5 484.6L530.2 484.3L530.8 483.9L531.5 483.5L532.2 483.2L532.8 482.9L533.5 482.6L534.2 482.3L534.9 482.0L535.6 481.7L536.3 481.4L536.7 481.2M549.0 476.1L549.7 475.8L550.4 475.6L550.6 475.6M561.4 473.3L562.1 473.1L562.9 473.0L563.6 472.9L564.3 472.8L565.1 472.7L565.8 472.6L566.6 472.5L567.3 472.4L568.1 472.3L568.8 472.2L569.5 472.0L570.3 471.9L571.0 471.8L571.8 471.7L572.5 471.6L573.2 471.5L574.0 471.3L574.7 471.2L575.5 471.1L576.2 470.9M586.6 467.5L587.3 467.2L588.0 466.8L588.2 466.7M597.6 457.3L597.9 456.6L598.2 455.9L598.4 455.2L598.7 454.5L598.9 453.8L599.1 453.1L599.2 452.3L599.4 451.6L599.6 450.9L599.8 450.2L600.0 449.4L600.2 448.7L600.4 448.0L600.6 447.3L600.7 446.5L600.9 445.8L601.1 445.1L601.3 444.3L601.5 443.9M609.4 431.9L609.9 431.4L610.5 430.8L610.6 430.7M621.1 423.5L621.8 423.2L622.5 422.9L623.2 422.7L623.9 422.4L624.6 422.2L625.3 421.9L626.0 421.7L626.7 421.5L627.5 421.2L628.2 421.0L628.9 420.8L629.6 420.6L630.4 420.4L631.1 420.3L631.8 420.1L632.6 419.9L633.3 419.8L634.0 419.7L634.8 419.5L635.5 419.4L636.2 419.3L637.0 419.1L637.2 419.1M647.1 417.9L647.9 417.8L648.6 417.7L648.9 417.7M659.9 417.0L660.6 416.9L661.4 416.8L662.1 416.8L662.9 416.7L663.6 416.6L664.3 416.5L665.1 416.4L665.8 416.3L666.6 416.2L667.3 416.1L668.1 416.0L668.8 415.9L669.6 415.8L670.3 415.7L671.0 415.6L671.8 415.5L672.5 415.4L673.3 415.3L674.0 415.2L674.7 415.0L675.5 414.9M686.1 410.2L686.7 409.7L687.3 409.2L687.4 409.0M695.1 398.3L695.3 397.6L695.6 396.9L695.9 396.2L696.1 395.5L696.3 394.8L696.6 394.1L696.8 393.4L697.0 392.6L697.3 391.9L697.5 391.2L697.7 390.5L697.9 389.8L698.1 389.1L698.4 388.3L698.6 387.6L698.8 386.9L699.0 386.2L699.2 385.5L699.3 385.0M701.9 372.2L702.1 371.5L702.3 370.8L702.3 370.5M707.7 359.1L708.2 358.5L708.7 357.9L709.2 357.4L709.7 356.8L710.2 356.3L710.8 355.8L711.3 355.3L711.9 354.8L712.5 354.4L713.2 354.0L713.8 353.6L714.4 353.2L715.1 352.8L715.8 352.5L716.4 352.2L717.1 351.9L717.8 351.7L718.6 351.4L719.3 351.3L720.0 351.1L720.8 351.0L721.3 350.9M732.8 350.8L733.5 350.8L734.3 350.8L734.5 350.9" stroke="#0000ff"/>
<path d="M109.0 549.2L109.8 549.2L110.5 549.2L111.3 549.2L112.0 549.2L112.8 549.2L113.5 549.2L114.3 549.2L115.0 549.2L115.8 549.2L116.5 549.2L117.3 549.2L118.0 549.2L118.8 549.2L119.5 549.2L120.3 549.2L120.8 549.2M130.8 549.2L131.5 549.2L132.3 549.2L132.5 549.2M142.8 549.2L143.5 549.2L144.3 549.2L144.5 549.2M155.8 549.2L156.5 549.2L157.3 549.2L158.0 549.2L158.8 549.2L159.5 549.2L160.3 549.2L161.0 549.2L161.8 549.2L162.5 549.2L163.3 549.2L164.0 549.2L164.8 549.2L165.5 549.2L166.3 549.2L167.0 549.2L167.3 549.2M177.5 549.2L178.3 549.2L179.0 549.2L179.3 549.2M189.3 549.2L190.0 549.2L190.8 549.2L191.0 549.2M202.3 549.2L203.0 549.2L203.8 549.2L204.5 549.2L205.3 549.2L206.0 549.2L206.8 549.2L207.5 549.2L208.3 549.2L209.0 549.2L209.8 549.2L210.5 549.2L211.3 549.2L212.0 549.2L212.8 549.2L213.5 549.2L214.0 549.2M224.0 549.2L224.8 549.2L225.5 549.2L225.8 549.2M236.0 549.2L236.8 549.2L237.5 549.2L237.8 549.2M249.0 549.2L249.8 549.2L250.5 549.2L251.3 549.2L252.0 549.2L252.8 549.2L253.5 549.2L254.3 549.2L255.0 549.2L255.8 549.2L256.5 549.2L257.3 549.2L258.0 549.2L258.8 549.2L259.5 549.2L260.3 549.2L260.5 549.2M270.6 549.2L271.3 549.2L272.1 549.2L272.3 549.2M282.6 549.2L283.3 549.2L284.1 549.2L284.3 549.2M295.6 549.2L296.3 549.2L297.1 549.2L297.8 549.2L298.6 549.2L299.3 549.2L300.1 549.2L300.8 549.2L301.6 549.2L302.3 549.2L303.1 549.2L303.8 549.2L304.6 549.2L305.3 549.2L306.1 549.2L306.8 549.2L307.1 549.2M317.3 549.2L318.1 549.2L318.8 549.2L319.1 549.2M329.1 549.3L329.8 549.3L330.6 549.3L330.8 549.3M342.1 549.3L342.8 549.3L343.6 549.3L344.3 549.3L345.1 549.3L345.8 549.3L346.6 549.3L347.3 549.4L348.1 549.4L348.8 549.4L349.6 549.4L350.3 549.4L351.1 549.4L351.8 549.4L352.6 549.4L353.3 549.4L353.8 549.4M363.8 549.4L364.6 549.4L365.3 549.4L365.6 549.4M375.8 549.5L376.6 549.5L377.3 549.5L377.6 549.5M388.8 549.5L389.6 549.5L390.3 549.5L391.1 549.5L391.8 549.5L392.6 549.5L393.3 549.5L394.1 549.5L394.8 549.5L395.6 549.6L396.3 549.6L397.1 549.6L397.8 549.6L398.6 549.6L399.3 549.6L400.1 549.6L400.3 549.6M410.3 549.5L411.1 549.5L411.8 549.5L412.3 549.5M422.4 549.5L423.1 549.5L423.9 549.5L424.1 549.5M435.4 549.2L436.1 549.2L436.9 549.2L437.6 549.1L438.4 549.1L439.1 549.1L439.8 549.0L440.6 549.0L441.3 549.0L442.1 548.9L442.8 548.8L443.6 548.8L444.3 548.7L445.1 548.6L445.8 548.5L446.6 548.4L446.8 548.4" stroke="#ff00ff" stroke-width="3.5"/>
<path d="M456.5 546.1L457.3 545.9L458.0 545.7L458.3 545.7M469.5 543.3L470.2 543.2L471.0 543.1L471.2 543.0M482.4 541.8L483.2 541.8L483.9 541.7L484.7 541.6L485.4 541.5L486.2 541.4L486.9 541.3L487.6 541.2L488.4 541.0L489.1 540.9L489.8 540.7L490.6 540.6L491.3 540.4L492.0 540.2L492.7 540.0L493.5 539.8M503.8 532.5L504.4 532.1L505.0 531.7L505.3 531.6M515.8 527.7L516.5 527.5L517.3 527.3L517.5 527.2M528.6 524.4L529.4 524.3L530.1 524.2L530.9 524.1L531.6 524.0L532.3 523.9L533.1 523.8L533.8 523.7L534.6 523.6L535.3 523.4L536.1 523.3L536.8 523.2L537.5 523.1L538.3 523.0L539.0 522.9L539.8 522.8L540.3 522.6M550.1 518.5L550.8 518.1L551.4 517.7L551.6 517.6M561.8 508.0L562.3 507.5L562.8 507.0L563.0 506.8M574.0 499.6L574.7 499.4L575.4 499.1L576.2 498.9L576.9 498.7L577.6 498.5L578.3 498.3L579.0 498.1L579.8 497.9L580.5 497.7L581.2 497.5L582.0 497.3L582.7 497.1L583.4 497.0L584.1 496.8L584.9 496.6M595.5 493.7L596.2 493.5L596.9 493.3L597.2 493.3M607.8 491.4L608.5 491.3L609.3 491.2L609.5 491.2M620.9 487.3L621.5 486.8L622.0 486.3L622.6 485.7L623.1 485.2L623.6 484.6L624.1 484.0L624.5 483.4L625.0 482.8L625.4 482.2L625.8 481.6L626.2 480.9L626.5 480.3L626.9 479.6L627.3 479.0L627.4 478.8M636.3 466.7L636.8 466.1L637.3 465.6L637.5 465.4M647.8 457.7L648.5 457.3L649.1 456.9L649.4 456.8M661.1 452.5L661.8 452.3L662.5 452.2L663.2 452.0L664.0 451.9L664.7 451.7L665.5 451.6L666.2 451.4L666.9 451.3L667.7 451.1L668.4 451.0L669.1 450.9L669.9 450.8L670.6 450.6L670.9 450.6M682.0 448.9L682.7 448.8L683.5 448.7L683.7 448.7M694.4 447.1L695.1 447.0L695.8 446.9L696.1 446.8M707.2 443.3L707.9 442.9L708.5 442.5L709.2 442.1L709.8 441.7L710.4 441.2L711.0 440.8L711.6 440.3L712.2 439.9L712.8 439.4L713.3 438.9L713.9 438.4L714.4 437.9L715.0 437.4L715.5 436.8L716.0 436.2L716.5 435.7M721.3 423.4L721.5 422.7L721.7 422.0L721.8 421.7M726.0 410.8L726.3 410.1L726.6 409.4L726.6 409.1" stroke="#ff00ff"/>
</g>
<g font-family="Liberation Sans, sans-serif" font-weight="bold" fill="#000">
<text transform="translate(92.8 560.3) scale(1 1.045)" font-size="37.5" text-anchor="end">0.0</text>
<text transform="translate(92.8 355.8) scale(1 1.045)" font-size="37.5" text-anchor="end">0.2</text>
<text transform="translate(92.8 151.3) scale(1 1.045)" font-size="37.5" text-anchor="end">0.4</text>
<use href="#one" transform="translate(318.3 594.4)"/>
<text transform="translate(108.8 594.8) scale(1 1.045)" font-size="37.5" text-anchor="middle">0</text>
<text transform="translate(527.5 594.8) scale(1 1.045)" font-size="37.5" text-anchor="middle">2</text>
<text transform="translate(736.8 594.8) scale(1 1.045)" font-size="37.5" text-anchor="middle">3</text>
<text x="394" y="617.2" font-size="41.5">eV/</text>
<use href="#mu" transform="translate(458.6 616.6) scale(1.0000)"/>
<text transform="translate(30.4 317.5) rotate(-90)" font-size="41.5">G/G<tspan font-size="32.5" dy="16.3">0</tspan></text>
<use href="#one" transform="translate(180.5 120) scale(0.803)"/>
<text transform="translate(189 218.8) scale(1 1.07)" font-size="30" text-anchor="end">0</text>
<text transform="translate(189 20.9) scale(1 1.07)" font-size="30" text-anchor="end">2</text>
<text transform="translate(195.4 240.4) scale(1 1.07)" font-size="30" text-anchor="middle">2</text>
<text transform="translate(279.5 240.4) scale(1 1.07)" font-size="30" text-anchor="middle">3</text>
<text transform="translate(363.7 240.4) scale(1 1.07)" font-size="30" text-anchor="middle">4</text>
<text transform="translate(447.8 240.4) scale(1 1.07)" font-size="30" text-anchor="middle">5</text>
</g>
<g font-family="Liberation Sans, sans-serif" fill="#000">
<text x="275.4" y="269.6" font-size="34">h</text>
<rect x="270.2" y="246" width="15.6" height="2.1" fill="#000"/>
<text x="303.3" y="269.6" font-size="34">v<tspan font-size="20" dy="12.4">F</tspan><tspan dy="-12.4">M/</tspan></text>
<use href="#mu" transform="translate(371.6 269.6) scale(0.7711)"/>
<text transform="translate(158.3 153.6) rotate(-90)" font-size="36">eV<tspan font-size="21" dy="13" dx="-1.3">c</tspan><tspan dy="-13">/</tspan></text>
<g transform="translate(157.6 89.4) rotate(-90)"><use href="#mu" transform="translate(0 0) scale(0.7711)"/></g>
</g>
</svg>
</body></html>
